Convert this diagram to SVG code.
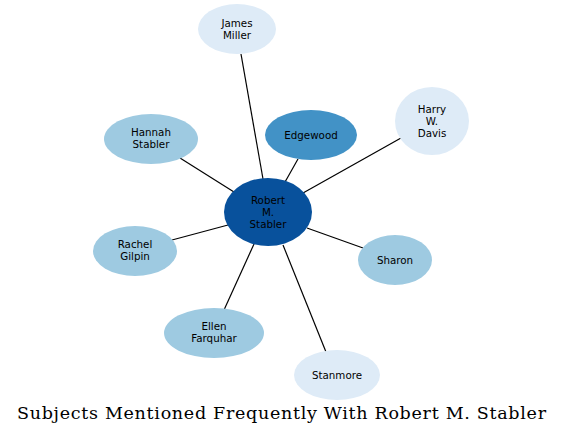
<svg xmlns="http://www.w3.org/2000/svg" width="563" height="436" viewBox="0 0 563 436">
<style>
.n text{font-family:"DejaVu Sans",sans-serif;font-size:10.3px;text-anchor:middle;fill:#000}
.e line{stroke:#000;stroke-width:1.2}
.c1{fill:#08519c}.c2{fill:#4292c6}.c3{fill:#9ecae1}.c4{fill:#deebf7}
.title{font-family:"DejaVu Serif",serif;font-size:17.5px;fill:#000}
</style>
<rect width="563" height="436" fill="#fff"/>
<g id="edges" class="e">
<line x1="263" y1="179" x2="241" y2="54"/>
<line x1="234" y1="192" x2="180" y2="158"/>
<line x1="285" y1="182" x2="298" y2="159"/>
<line x1="303" y1="193" x2="401" y2="138"/>
<line x1="228" y1="225" x2="172" y2="240"/>
<line x1="307" y1="228" x2="363" y2="248"/>
<line x1="254" y1="244" x2="224" y2="310"/>
<line x1="283" y1="245" x2="326" y2="352"/>
</g>
<g id="node-robert" class="n"><ellipse class="c1" cx="268" cy="212" rx="44" ry="34"/><text x="268" y="204">Robert</text><text x="268" y="216">M.</text><text x="268" y="228">Stabler</text></g>
<g id="node-james" class="n"><ellipse class="c4" cx="237" cy="29" rx="39" ry="25"/><text x="237" y="27">James</text><text x="237" y="39">Miller</text></g>
<g id="node-hannah" class="n"><ellipse class="c3" cx="151" cy="139" rx="47" ry="25"/><text x="151" y="136">Hannah</text><text x="151" y="148">Stabler</text></g>
<g id="node-edgewood" class="n"><ellipse class="c2" cx="311" cy="135" rx="46" ry="25"/><text x="311" y="139">Edgewood</text></g>
<g id="node-harry" class="n"><ellipse class="c4" cx="432" cy="121" rx="37" ry="34"/><text x="432" y="113">Harry</text><text x="432" y="125">W.</text><text x="432" y="137">Davis</text></g>
<g id="node-rachel" class="n"><ellipse class="c3" cx="135" cy="251" rx="42" ry="25"/><text x="135" y="248">Rachel</text><text x="135" y="260">Gilpin</text></g>
<g id="node-sharon" class="n"><ellipse class="c3" cx="395" cy="260" rx="37" ry="25"/><text x="395" y="264">Sharon</text></g>
<g id="node-ellen" class="n"><ellipse class="c3" cx="214" cy="333" rx="50" ry="25"/><text x="214" y="330">Ellen</text><text x="214" y="342">Farquhar</text></g>
<g id="node-stanmore" class="n"><ellipse class="c4" cx="337" cy="375" rx="43" ry="25"/><text x="337" y="379">Stanmore</text></g>
<text class="title" x="17" y="419" textLength="529" lengthAdjust="spacing">Subjects Mentioned Frequently With Robert M. Stabler</text>
</svg>
